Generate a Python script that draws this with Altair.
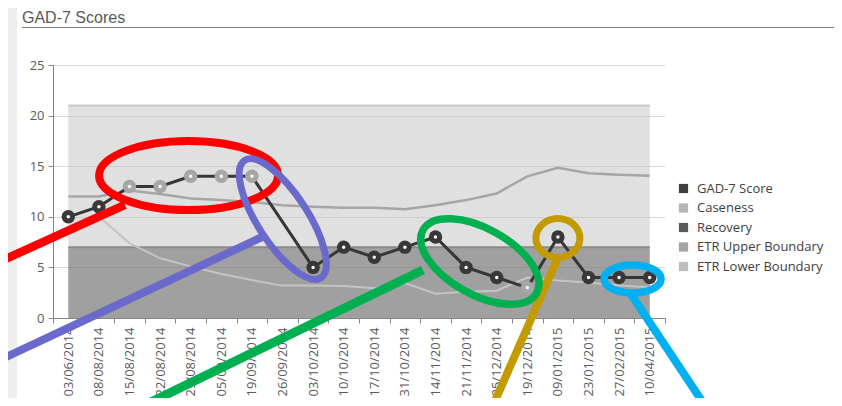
import altair as alt
import pandas as pd

# ---------------- data ----------------
dates = ["03/06/2014", "08/08/2014", "15/08/2014", "22/08/2014", "29/08/2014",
         "05/09/2014", "19/09/2014", "26/09/2014", "03/10/2014", "10/10/2014",
         "17/10/2014", "31/10/2014", "14/11/2014", "21/11/2014", "05/12/2014",
         "19/12/2014", "09/01/2015", "23/01/2015", "27/02/2015", "10/04/2015"]
gad7_score = [10, 11, 13, 13, 14, 14, 14, None, 5, 7, 6, 7, 8, 5, 4, 3, 8, 4, 4, 4]
outside_etr = [False, False, True, True, True, True, True, False, False, False,
               False, False, False, False, False, True, False, False, False, False]
etr_upper = [12.0, 12.0, 12.6, 12.25, 11.8, 11.65, 11.45, 11.15, 11.0, 10.9,
             10.9, 10.75, 11.15, 11.65, 12.3, 14.0, 14.85, 14.3, 14.15, 14.05]
etr_lower = [None, 10.0, 7.4, 5.9, 5.1, 4.35, 3.75, 3.2, 3.2, 3.15,
             2.95, 3.45, 2.4, 2.6, 2.7, 4.0, 3.7, 3.5, 3.2, 3.05]
caseness = [21] * len(dates)
recovery = [7] * len(dates)

series = ["GAD-7 Score", "Caseness", "Recovery", "ETR Upper Boundary", "ETR Lower Boundary"]
series_colors = ["#404040", "#b4b4b4", "#595959", "#a3a3a3", "#bdbdbd"]

# annotation shapes drawn over the chart (centre in category index / score units)
ell_x = [3.93, 7.01, 13.45, 16.0, 18.44]
ell_y = [14.08, 9.78, 5.58, 7.9, 3.85]
ell_rx = [89.5, 70, 65, 22, 28.5]
ell_ry = [34.5, 25, 33, 19.5, 14]
ell_angle = [0, 57, 29, 0, 0]
ell_color = ["#ff0000", "#6a6acd", "#00b050", "#c39a00", "#00b0f0"]
ell_sw = [8, 7, 7.5, 7, 7.5]

ln_x = [-2.56, -2.56, 1.49, 13.67, 18.36]
ln_y = [5.14, -4.61, -10.08, -10.08, 2.47]
ln_x2 = [1.85, 6.33, 11.59, 15.97, 21.12]
ln_y2 = [11.17, 8.0, 4.74, 5.73, -10.08]
ln_sw = [8.5, 8, 9, 8, 8]

FONT = "Segoe UI, Open Sans, sans-serif"
TITLE_FONT = "Liberation Sans, Arial, sans-serif"

df = pd.DataFrame({
    "date": dates, "score": gad7_score, "outside": outside_etr,
    "upper": etr_upper, "lower": etr_lower,
    "caseness": caseness, "recovery": recovery,
})
df["mcol"] = ["#a6a6a6" if o else "#383838" for o in outside_etr]


def ellipse_path(k):
    c = 0.5523
    return (f"M -1 0 C -1 {-c*k:.4f} {-c:.4f} {-k:.4f} 0 {-k:.4f} "
            f"C {c:.4f} {-k:.4f} 1 {-c*k:.4f} 1 0 "
            f"C 1 {c*k:.4f} {c:.4f} {k:.4f} 0 {k:.4f} "
            f"C {-c:.4f} {k:.4f} -1 {c*k:.4f} -1 0 Z")


ell = pd.DataFrame({
    "x": ell_x, "y": ell_y, "angle": ell_angle, "color": ell_color, "sw": ell_sw,
    "shape": [ellipse_path(ry / rx) for rx, ry in zip(ell_rx, ell_ry)],
    "size": [(2 * rx) ** 2 for rx in ell_rx],
})
lines = pd.DataFrame({"x": ln_x, "y": ln_y, "x2": ln_x2, "y2": ln_y2,
                      "color": ell_color, "sw": ln_sw})

# ---------------- encodings ----------------
yscale = alt.Scale(domain=[0, 25], nice=False, zero=False)
yaxis = alt.Axis(values=[0, 5, 10, 15, 20, 25], labelFontSize=13,
                 labelColor="#595959", labelFont=FONT,
                 domainColor="#868686", tickColor="#868686", tickSize=5,
                 labelPadding=4, grid=True, gridColor="#d9d9d9")
xenc = alt.X("date:N", sort=dates,
             scale=alt.Scale(type="band", domain=dates, paddingInner=0, paddingOuter=0),
             axis=alt.Axis(title=None, labelAngle=270, labelFontSize=13, labelColor="#595959",
                           labelFont=FONT, domainColor="#868686", tickColor="#868686",
                           tickSize=5, labelPadding=4, grid=False, tickBand="extent"))


def yenc(field):
    return alt.Y(f"{field}:Q", scale=yscale, title=None, axis=yaxis)


base = alt.Chart(df)

case_area = base.mark_area(color="#c1c1c1", opacity=0.5).encode(
    x=xenc, y=yenc("caseness"), y2=alt.datum(0))
rec_area = base.mark_area(color="#606060", opacity=0.5).encode(
    x=xenc, y=yenc("recovery"), y2=alt.datum(0))
case_top = base.mark_line(color="#c9c9c9", strokeWidth=2).encode(x=xenc, y=yenc("caseness"))
rec_top = base.mark_line(color="#8a8a8a", strokeWidth=2).encode(x=xenc, y=yenc("recovery"))

upper_line = base.mark_line(color="#a6a6a6", strokeWidth=2.5).transform_filter(
    "isValid(datum.upper)").encode(x=xenc, y=yenc("upper"))
lower_line = base.mark_line(color="#c4c4c4", strokeWidth=2).transform_filter(
    "isValid(datum.lower)").encode(x=xenc, y=yenc("lower"))

scored = base.transform_filter("isValid(datum.score)")
gad_line = scored.mark_line(color="#363636", strokeWidth=3).encode(x=xenc, y=yenc("score"))
markers = scored.mark_point(filled=True, shape="circle", size=180, opacity=1).encode(
    x=xenc, y=yenc("score"), fill=alt.Fill("mcol:N", scale=None))
centres = scored.mark_point(filled=True, shape="circle", size=12, opacity=1,
                            color="white").encode(x=xenc, y=yenc("score"))

legend_layer = alt.Chart(pd.DataFrame({"series": series})).mark_square(opacity=1).encode(
    color=alt.Color("series:N", scale=alt.Scale(domain=series, range=series_colors),
                    legend=alt.Legend(orient="none", legendX=624, legendY=117, title=None,
                                      symbolType="square", symbolSize=85, symbolStrokeWidth=0,
                                      labelFontSize=13, labelColor="#404040", labelFont=FONT,
                                      rowPadding=5.5, labelOffset=7, padding=0))
).transform_filter("false")

main = alt.layer(case_area, rec_area, case_top, rec_top, upper_line, lower_line,
                 gad_line, markers, centres, legend_layer)

ax = alt.X("x:Q", scale=alt.Scale(domain=[-0.5, 19.5], nice=False, zero=False), axis=None)
ay = alt.Y("y:Q", scale=yscale, title=None, axis=yaxis)

ann_lines = alt.Chart(lines).mark_rule(strokeCap="butt").encode(
    x=ax, y=ay, x2="x2:Q", y2="y2:Q",
    stroke=alt.Stroke("color:N", scale=None),
    strokeWidth=alt.StrokeWidth("sw:Q", scale=None))
ann_ell = alt.Chart(ell).mark_point(filled=False, opacity=1).encode(
    x=ax, y=ay,
    shape=alt.Shape("shape:N", scale=None),
    size=alt.Size("size:Q", scale=None),
    angle=alt.Angle("angle:Q", scale=None),
    stroke=alt.Stroke("color:N", scale=None),
    strokeWidth=alt.StrokeWidth("sw:Q", scale=None))
annotations = alt.layer(ann_lines, ann_ell)

underline = alt.Chart(pd.DataFrame({"a": [0]})).mark_rule(color="#808080", strokeWidth=1).encode(
    x=alt.value(-31), x2=alt.value(781), y=alt.value(-37.5))
strip = alt.Chart(pd.DataFrame({"a": [0]})).mark_rect(color="#eeeeee").encode(
    x=alt.value(-45), x2=alt.value(-36), y=alt.value(-57), y2=alt.value(333))

chart = alt.layer(
    strip, main, annotations, underline
).resolve_scale(x="independent").properties(
    width=612, height=253,
    title=alt.TitleParams("GAD-7 Scores", anchor="start", frame="group", dx=-31,
                          offset=-31, baseline="alphabetic", fontSize=16, font=TITLE_FONT,
                          fontWeight="normal", color="#595959"),
    autosize=alt.AutoSizeParams(type="none"),
    padding={"left": 45, "top": 57, "right": 169, "bottom": 80},
    background="white",
).configure_view(stroke=None)

chart.save("out.html", embed_options={"renderer": "svg", "actions": False})
